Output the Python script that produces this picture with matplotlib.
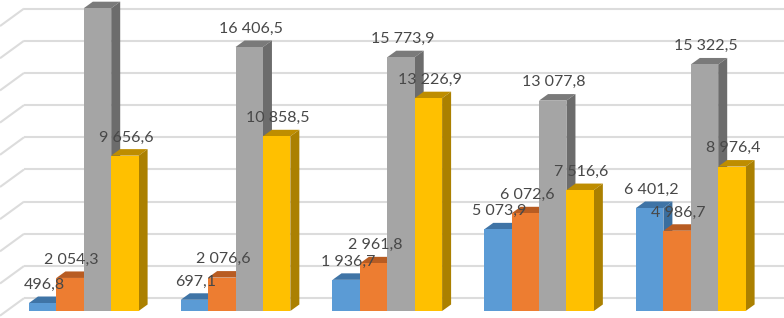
import matplotlib
matplotlib.use("Agg")
import matplotlib.pyplot as plt
import numpy as np

series_a = [496.8, 697.1, 1936.7, 5073.9, 6401.2]
series_b = [2054.3, 2076.6, 2961.8, 6072.6, 4986.7]
series_c = [18820.0, 16406.5, 15773.9, 13077.8, 15322.5]
series_d = [9656.6, 10858.5, 13226.9, 7516.6, 8976.4]
labelled_c = [False, True, True, True, True]
gridlines = list(range(0, 20000, 2000))

W, H = 784, 318
PX_PER_UNIT = 0.01609
BASE_Y = 311
fig = plt.figure(figsize=(W / 100, H / 100), dpi=100, facecolor="white")
ax = fig.add_axes([0, 0, 1, 1])
ax.set_xlim(0, W)
ax.set_ylim(-(H - BASE_Y) / PX_PER_UNIT, BASE_Y / PX_PER_UNIT)
ax.axis("off")

u = lambda px: px / PX_PER_UNIT

# back wall and side wall gridlines
wall_lift = u(12.8)
for g in gridlines:
    y = g + wall_lift
    ax.plot([24, W], [y, y], color="#DCDCDC", lw=1.5, solid_capstyle="butt", zorder=1)
    ax.plot([24, 0], [y, y - u(17.5)], color="#DCDCDC", lw=1.5, solid_capstyle="butt", zorder=1)

styles = [
    (series_a, "#5B9BD5", "#3F74A6", "#3A6E9E"),
    (series_b, "#ED7D31", "#B85C22", "#AE5620"),
    (series_c, "#A5A5A5", "#7A7A7A", "#6C6C6C"),
    (series_d, "#FFC000", "#BE8D00", "#AB8000"),
]
group_x0, group_step, bar_w = 29.0, 151.75, 27.4
dx, dy = 9.0, u(6.5)

z = 2.0
for g in range(5):
    for s, (vals, front, top, side) in enumerate(styles):
        left = group_x0 + g * group_step + s * bar_w
        v = vals[g]
        ax.fill([left, left + dx, left + bar_w + dx, left + bar_w],
                [v, v + dy, v + dy, v], color=top, lw=0, zorder=z)
        ax.fill([left + bar_w, left + bar_w + dx, left + bar_w + dx, left + bar_w],
                [0, dy, v + dy, v], color=side, lw=0, zorder=z)
        ax.bar(left, v, width=bar_w, align="edge", color=front, lw=0, zorder=z + 0.1)
        z += 0.2

for g in range(5):
    for s, (vals, *_rest) in enumerate(styles):
        if s == 2 and not labelled_c[g]:
            continue
        left = group_x0 + g * group_step + s * bar_w
        v = vals[g]
        txt = f"{v:,.1f}".replace(",", " ").replace(".", ",")
        ax.annotate(txt, xy=(left + bar_w / 2, v), xytext=(1.5 * 0.72, 18.2 * 0.72),
                    textcoords="offset points", ha="center", va="center",
                    fontsize=11.5, family="Lato", color="#484848", zorder=50)

fig.savefig("out.png", dpi=100, facecolor="white")
